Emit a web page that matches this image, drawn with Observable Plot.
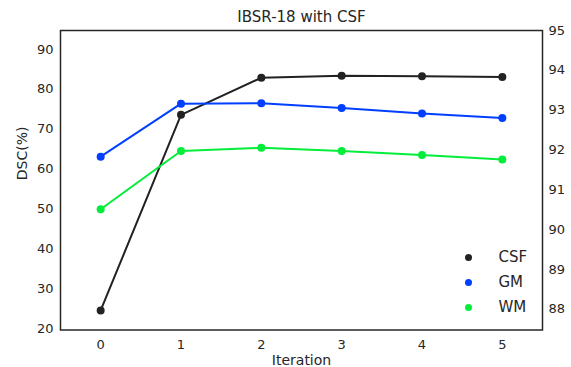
<!DOCTYPE html>
<html><head><meta charset="utf-8">
<script src="https://cdn.jsdelivr.net/npm/d3@7"></script>
<script src="https://cdn.jsdelivr.net/npm/@observablehq/plot@0.6"></script>
<style>body{margin:0;background:#fff}</style>
</head><body><div id="chart"></div>
<script>
const iterations = [0, 1, 2, 3, 4, 5];
const seriesNames = ["CSF", "GM", "WM"];
const csf = [24.5, 73.6, 82.9, 83.4, 83.3, 83.1];
const gm  = [63.1, 76.4, 76.5, 75.3, 73.9, 72.8];
const wm  = [49.9, 64.5, 65.3, 64.5, 63.5, 62.4];
const leftTicks = [20, 30, 40, 50, 60, 70, 80, 90];
const rightTicks = [88, 89, 90, 91, 92, 93, 94, 95];
const colors = ["#222222", "#003FFF", "#03ED3A"];

const L = [19.6, 94.75], R = [87.48, 95];
const toLeft = v => L[0] + (v - R[0]) * (L[1] - L[0]) / (R[1] - R[0]);
const toRight = v => R[0] + (v - L[0]) * (R[1] - R[0]) / (L[1] - L[0]);

const values = [csf, gm, wm];
const data = [];
seriesNames.forEach((s, i) => iterations.forEach((it, j) => data.push({series: s, x: it, y: values[i][j]})));

const font = "DejaVu Sans, sans-serif";
const legendMarks = seriesNames.flatMap((s, i) => [
  Plot.dot([s], {frameAnchor: "bottom-right", dx: -74, dy: -22.5 - (2 - i) * 25, r: 3.5, fill: colors[i], stroke: "none"}),
  Plot.text([s], {frameAnchor: "bottom-right", dx: -44, dy: -22.5 - (2 - i) * 25, lineAnchor: "middle", text: d => d, textAnchor: "start", fontSize: 15, fill: "#262626"})
]);

const chart = Plot.plot({
  width: 571, height: 367,
  marginLeft: 60, marginRight: 29, marginTop: 30, marginBottom: 37.5,
  style: {fontFamily: font, background: "#fff", color: "#262626"},
  x: {domain: [-0.5, 5.5], ticks: iterations},
  y: {domain: L},
  color: {domain: seriesNames, range: colors},
  marks: [
    Plot.frame({stroke: "#262626", strokeWidth: 1.5}),
    Plot.axisX({ticks: iterations, tickSize: 0, tickPadding: 10, fontSize: 13, label: null, tickFormat: d => d}),
    Plot.axisY({ticks: leftTicks, tickSize: 0, tickPadding: 7, fontSize: 13, label: null}),
    Plot.axisY({anchor: "right", ticks: rightTicks.map(toLeft), tickFormat: d => Math.round(toRight(d)), tickSize: 0, tickPadding: 6, fontSize: 13, label: null}),
    Plot.text(["Iteration"], {frameAnchor: "bottom", lineAnchor: "middle", dy: 30.5, text: d => d, fontSize: 14, fill: "#262626"}),
    Plot.text(["DSC(%)"], {frameAnchor: "left", lineAnchor: "middle", dx: -38, rotate: -90, text: d => d, fontSize: 14, fill: "#262626"}),
    Plot.text(["IBSR-18 with CSF"], {frameAnchor: "top", lineAnchor: "middle", dy: -13, text: d => d, fontSize: 15, fill: "#262626"}),
    Plot.line(data, {x: "x", y: "y", z: "series", stroke: "series", strokeWidth: 2}),
    Plot.dot(data, {x: "x", y: "y", fill: "series", r: 4, stroke: "none"}),
    ...legendMarks
  ]
});
document.getElementById("chart").append(chart);
</script></body></html>
